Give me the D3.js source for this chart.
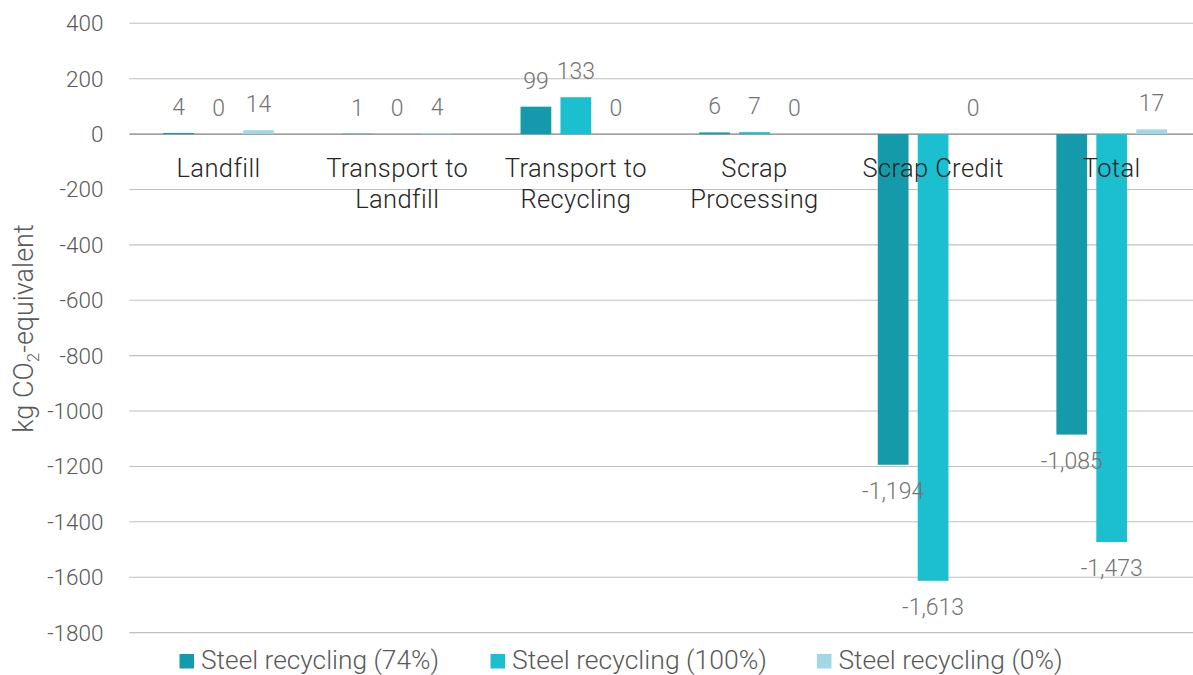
<!DOCTYPE html>
<html>
<head>
<meta charset="utf-8">
<script src="https://cdn.jsdelivr.net/npm/d3@7"></script>
<style>
  html, body { margin: 0; padding: 0; background: #ffffff; }
  svg { display: block; font-family: Roboto, "Open Sans", sans-serif; }
</style>
</head>
<body>
<svg id="chart" width="1193" height="675"></svg>
<script>
// ---- data ----
const categories = ["Landfill", "Transport to\nLandfill", "Transport to\nRecycling", "Scrap\nProcessing", "Scrap Credit", "Total"];
const seriesNames = ["Steel recycling (74%)", "Steel recycling (100%)", "Steel recycling (0%)"];
const recycling74 = [4, 1, 99, 6, -1194, -1085];
const recycling100 = [0, 0, 133, 7, -1613, -1473];
const recycling0 = [14, 4, 0, 0, 0, 17];
const yTicks = [400, 200, 0, -200, -400, -600, -800, -1000, -1200, -1400, -1600, -1800];
const seriesColors = ["#149aaa", "#1bbfd0", "#a1d8e3"];

const seriesValues = [recycling74, recycling100, recycling0];

const locale = d3.formatLocale({ decimal: ".", thousands: ",", grouping: [3], currency: ["", ""], minus: "-" });
const fmtTick = locale.format("d");
const fmtVal = locale.format(",");

const svg = d3.select("#chart");
const plotLeft = 129.3, plotRight = 1201, plotTop = 23.3, plotBottom = 632.6;

const y = d3.scaleLinear().domain([-1800, 400]).range([plotBottom, plotTop]);
const x0 = d3.scaleBand().domain(categories).range([plotLeft, plotRight]).padding(0);
const x1 = d3.scaleBand().domain(seriesNames).range([34, x0.bandwidth() - 34]).paddingInner(0.23).paddingOuter(0);

// gridlines
svg.append("g").selectAll("line").data(yTicks).join("line")
  .attr("x1", plotLeft).attr("x2", plotRight)
  .attr("y1", d => y(d)).attr("y2", d => y(d))
  .attr("stroke", d => d === 0 ? "#7f7f7f" : "#c0c0c0")
  .attr("stroke-width", d => d === 0 ? 1.4 : 1.1);

// y tick labels
svg.append("g").selectAll("text").data(yTicks).join("text")
  .attr("x", 103.5).attr("y", d => y(d) + 8)
  .attr("text-anchor", "end")
  .attr("font-size", 22.5).attr("font-weight", 300)
  .attr("fill", "#595959")
  .text(d => fmtTick(d));

// y axis title
const yt = svg.append("text")
  .attr("transform", `translate(33,328.5) rotate(-90)`)
  .attr("text-anchor", "middle")
  .attr("font-size", 27).attr("font-weight", 300)
  .attr("fill", "#595959");
yt.append("tspan").text("kg CO");
yt.append("tspan").attr("font-size", 17).attr("dy", 6).text("2");
yt.append("tspan").attr("dy", -6).text("-equivalent");

// bars
const flat = [];
categories.forEach((c, i) => {
  seriesNames.forEach((s, j) => {
    flat.push({ cat: c, series: s, si: j, value: seriesValues[j][i] });
  });
});

svg.append("g").selectAll("rect").data(flat).join("rect")
  .attr("x", d => x0(d.cat) + x1(d.series))
  .attr("width", x1.bandwidth())
  .attr("y", d => y(Math.max(0, d.value)))
  .attr("height", d => Math.abs(y(d.value) - y(0)))
  .attr("fill", d => seriesColors[d.si]);

// category labels
const catG = svg.append("g");
categories.forEach(c => {
  const lines = c.split("\n");
  const cx = x0(c) + x0.bandwidth() / 2;
  const t = catG.append("text")
    .attr("x", cx)
    .attr("y", 176.7)
    .attr("text-anchor", "middle")
    .attr("font-size", 25.5).attr("font-weight", 300)
    .attr("letter-spacing", 0.4)
    .attr("fill", "#262626");
  lines.forEach((l, k) => {
    t.append("tspan").attr("x", cx).attr("dy", k === 0 ? 0 : 31.6).text(l);
  });
});

// value labels
svg.append("g").selectAll("text").data(flat).join("text")
  .attr("x", d => x0(d.cat) + x1(d.series) + x1.bandwidth() / 2)
  .attr("y", d => d.value >= 0 ? y(d.value) - 18 : y(d.value) + 34)
  .attr("text-anchor", "middle")
  .attr("font-size", 23).attr("font-weight", 300)
  .attr("fill", "#737373")
  .text(d => fmtVal(d.value));

// legend
const legendX = [179.5, 490.5, 817];
const legendTextLen = [238, 255, 224];
const lg = svg.append("g");
seriesNames.forEach((s, i) => {
  lg.append("rect").attr("x", legendX[i]).attr("y", 654).attr("width", 14.5).attr("height", 14.5)
    .attr("fill", seriesColors[i]);
  lg.append("text").attr("x", legendX[i] + 21.5).attr("y", 669.3)
    .attr("font-size", 25).attr("font-weight", 300)
    .attr("fill", "#595959")
    .attr("textLength", legendTextLen[i]).attr("lengthAdjust", "spacingAndGlyphs")
    .text(s);
});
</script>
</body>
</html>
